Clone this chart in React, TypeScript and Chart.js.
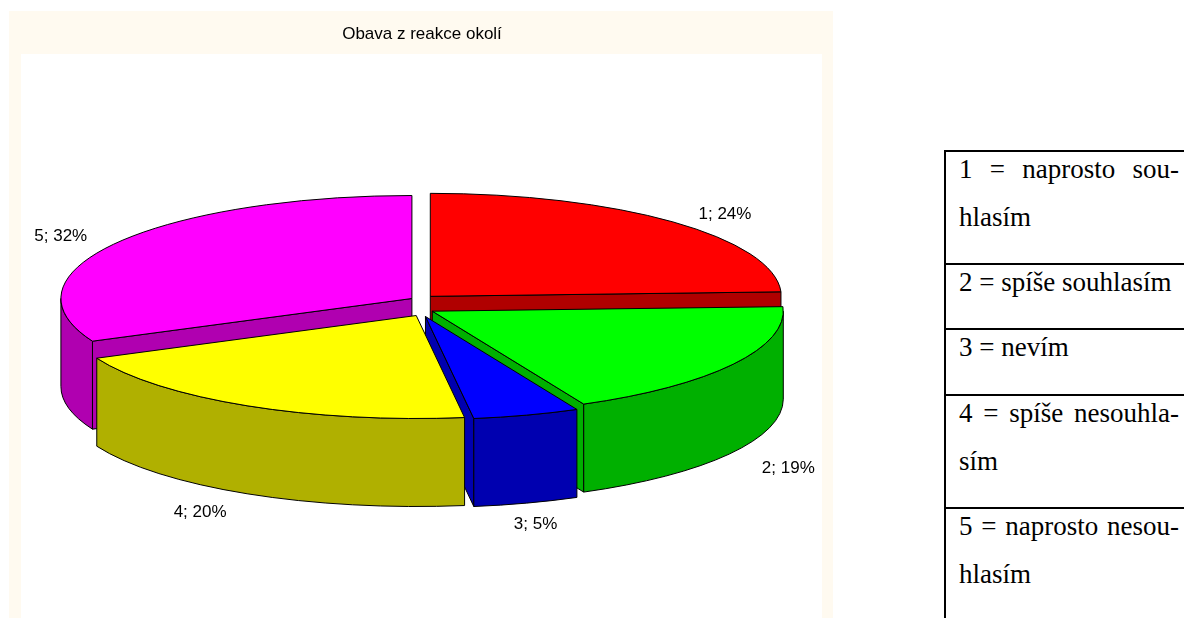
import React, { useEffect, useRef } from "react";
import { Chart, registerables } from "chart.js";

Chart.register(...registerables);

const chartTitle = "Obava z reakce okolí";
const categories = ["1", "2", "3", "4", "5"];
const shares = [24.3, 18.6, 4.9, 20.4, 31.8];
const topColors = ["#ff0000", "#00ff00", "#0000ff", "#ffff00", "#ff00ff"];
const sideColors = ["#b00000", "#00b000", "#0000b0", "#b0b000", "#b000b0"];
const legendRows = [
  ["1 = naprosto sou-", "hlasím"],
  ["2 = spíše souhlasím"],
  ["3 = nevím"],
  ["4 = spíše nesouhla-", "sím"],
  ["5 = naprosto nesou-", "hlasím"],
];
const rowHeights = [113, 65, 66, 113, 120];

const FONT = '"Liberation Sans", Arial, sans-serif';
const SQUASH = 103 / 351;
const DEPTH = 88;
const PAINT_ORDER = [0, 4, 1, 2, 3];
const LABEL_NUDGE = [
  [52, -8],
  [55, 16],
  [9, 21],
  [-47, 19],
  [-56, -6],
];

const pie3d = {
  id: "pie3d",
  beforeDraw(chart: any) {
    const { ctx } = chart;
    ctx.save();
    ctx.fillStyle = "#fffaf0";
    ctx.fillRect(9, 11, 824, 607);
    ctx.fillStyle = "#ffffff";
    ctx.fillRect(21, 54, 801, 564);
    ctx.restore();
  },
  beforeDatasetsDraw(chart: any) {
    const { ctx } = chart;
    const arcs = chart.getDatasetMeta(0).data;
    ctx.save();
    ctx.lineWidth = 1;
    ctx.strokeStyle = "#000000";
    ctx.lineJoin = "round";

    for (const i of PAINT_ORDER) {
      const arc = arcs[i];
      const a0 = arc.startAngle;
      const a1 = arc.endAngle;
      const mid = (a0 + a1) / 2;
      const off = arc.options.offset;
      const cx = arc.x + Math.cos(mid) * off;
      const cy = arc.y + Math.sin(mid) * off;
      const rx = arc.outerRadius;
      const ry = rx * SQUASH;
      const px = (a: number) => cx + Math.cos(a) * rx;
      const py = (a: number) => cy + Math.sin(a) * ry;

      const radialWall = (a: number) => {
        ctx.beginPath();
        ctx.moveTo(cx, cy);
        ctx.lineTo(px(a), py(a));
        ctx.lineTo(px(a), py(a) + DEPTH);
        ctx.lineTo(cx, cy + DEPTH);
        ctx.closePath();
        ctx.fillStyle = sideColors[i];
        ctx.fill();
        ctx.stroke();
      };
      if (-Math.cos(a0) > 1e-6) radialWall(a0);
      if (Math.cos(a1) > 1e-6) radialWall(a1);

      const from = Math.max(a0, 0);
      const to = Math.min(a1, Math.PI);
      if (to > from) {
        ctx.beginPath();
        ctx.ellipse(cx, cy, rx, ry, 0, from, to);
        ctx.lineTo(px(to), py(to) + DEPTH);
        ctx.ellipse(cx, cy + DEPTH, rx, ry, 0, to, from, true);
        ctx.closePath();
        ctx.fillStyle = sideColors[i];
        ctx.fill();
        ctx.stroke();
      }

      ctx.beginPath();
      ctx.moveTo(cx, cy);
      ctx.ellipse(cx, cy, rx, ry, 0, a0, a1);
      ctx.closePath();
      ctx.fillStyle = topColors[i];
      ctx.fill();
      ctx.stroke();
    }

    ctx.fillStyle = "#000000";
    ctx.font = `17px ${FONT}`;
    ctx.textAlign = "center";
    ctx.textBaseline = "middle";
    arcs.forEach((arc: any, i: number) => {
      const mid = (arc.startAngle + arc.endAngle) / 2;
      const off = arc.options.offset;
      const rx = arc.outerRadius;
      const front = Math.sin(mid) > 0 ? DEPTH : 0;
      const x = arc.x + Math.cos(mid) * (off + rx) + LABEL_NUDGE[i][0];
      const y =
        arc.y + Math.sin(mid) * (off + rx * SQUASH) + front + LABEL_NUDGE[i][1];
      ctx.fillText(`${categories[i]}; ${Math.round(shares[i])}%`, x, y);
    });
    ctx.restore();
    return false;
  },
};

export default function App() {
  const ref = useRef<HTMLCanvasElement>(null);

  useEffect(() => {
    const chart = new Chart(ref.current as HTMLCanvasElement, {
      type: "pie",
      data: {
        labels: categories,
        datasets: [
          {
            data: shares,
            backgroundColor: topColors,
            offset: 12,
            radius: 351,
            borderWidth: 1,
          } as any,
        ],
      },
      options: {
        animation: false,
        responsive: false,
        layout: { padding: { bottom: 52.2 } },
        plugins: {
          legend: { display: false },
          tooltip: { enabled: false },
          title: {
            display: true,
            text: chartTitle,
            color: "#000000",
            font: { family: FONT, size: 17, weight: "normal" },
            padding: { top: 23.8, bottom: 0 },
          },
        },
      },
      plugins: [pie3d],
    } as any);
    return () => chart.destroy();
  }, []);

  return (
    <div
      style={{
        position: "absolute",
        left: 0,
        top: 0,
        width: 1184,
        height: 618,
        overflow: "hidden",
        background: "#ffffff",
      }}
    >
      <canvas
        ref={ref}
        width={844}
        height={618}
        style={{ position: "absolute", left: 0, top: 0, width: 844, height: 618 }}
      />
      <table
        style={{
          position: "absolute",
          left: 944,
          top: 150,
          width: 260,
          borderCollapse: "collapse",
          tableLayout: "fixed",
          fontFamily: '"Liberation Serif", "Times New Roman", serif',
          fontSize: 27,
          lineHeight: "48px",
          color: "#000000",
        }}
      >
        <tbody>
          {legendRows.map((lines, r) => (
            <tr key={r} style={{ height: rowHeights[r] }}>
              <td
                style={{
                  verticalAlign: "top",
                  padding: "0 0 0 13px",
                  borderLeft: "2px solid #000",
                  borderTop: "2px solid #000",
                  borderBottom: "2px solid #000",
                }}
              >
                {lines.map((line, l) => (
                  <div
                    key={l}
                    style={{
                      position: "relative",
                      top: -7,
                      width: 220,
                      whiteSpace: "nowrap",
                      textAlign: "left",
                      textAlignLast:
                        lines.length > 1 && l === 0 ? "justify" : "left",
                    }}
                  >
                    {line}
                  </div>
                ))}
              </td>
            </tr>
          ))}
        </tbody>
      </table>
    </div>
  );
}
